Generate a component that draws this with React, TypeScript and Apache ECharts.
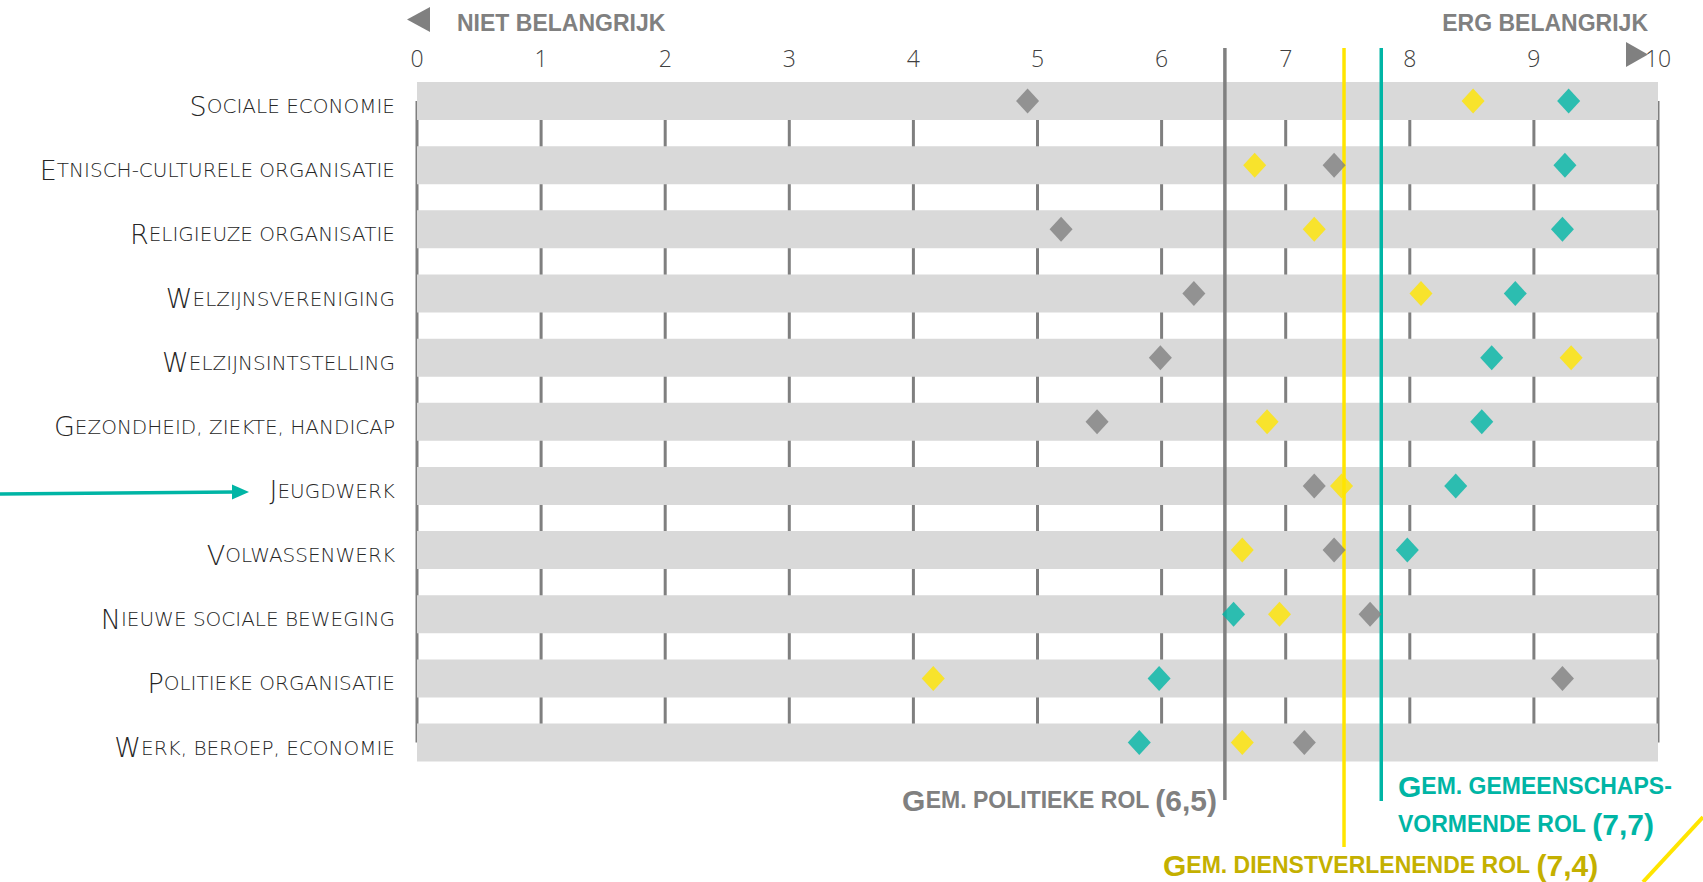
import React, { useEffect, useRef } from 'react';
import * as echarts from 'echarts';

const categories = [
  'Sociale economie',
  'Etnisch-culturele organisatie',
  'Religieuze organisatie',
  'Welzijnsvereniging',
  'Welzijnsintstelling',
  'Gezondheid, ziekte, handicap',
  'Jeugdwerk',
  'Volwassenwerk',
  'Nieuwe sociale beweging',
  'Politieke organisatie',
  'Werk, beroep, economie',
];

const tickValues = [0, 1, 2, 3, 4, 5, 6, 7, 8, 9, 10];

// gray diamonds: politieke rol
const politiekeRol = [4.92, 7.39, 5.19, 6.26, 5.99, 5.48, 7.23, 7.39, 7.68, 9.23, 7.15];
// yellow diamonds: dienstverlenende rol
const dienstverlenendeRol = [8.51, 6.75, 7.23, 8.09, 9.3, 6.85, 7.45, 6.65, 6.95, 4.16, 6.65];
// teal diamonds: gemeenschapsvormende rol
const gemeenschapsvormendeRol = [9.28, 9.25, 9.23, 8.85, 8.66, 8.58, 8.37, 7.98, 6.58, 5.98, 5.82];

// average lines (politieke, dienstverlenende, gemeenschapsvormende)
const meanValues = [6.51, 7.47, 7.77];

const GRAY = '#808080';
const YELLOW = '#ffe500';
const TEAL = '#00b5a5';
const YELLOW_TEXT = '#c4b000';

const meanColors = [GRAY, YELLOW, TEAL];
const meanBottoms = [800, 847, 801];

const LABEL_FONT = 'DejaVu Sans';
const BOLD_FONT = 'Liberation Sans, Arial, sans-serif';

function smallCaps(v: string) {
  return `{b|${v.charAt(0).toUpperCase()}}{s|${v.slice(1).toUpperCase()}}`;
}

function richBold(color: string) {
  return {
    b: { fontSize: 30, fontWeight: 'bold', fontFamily: BOLD_FONT, fill: color },
    s: { fontSize: 23, fontWeight: 'bold', fontFamily: BOLD_FONT, fill: color },
  };
}

export default function App() {
  const ref = useRef<HTMLDivElement>(null);

  useEffect(() => {
    if (!ref.current) return;
    const chart = echarts.init(ref.current, undefined, { renderer: 'svg' });

    const option: any = {
      animation: false,
      backgroundColor: '#ffffff',
      grid: { left: 417, right: 45, top: 69, height: 705.6 },
      xAxis: {
        type: 'value',
        position: 'top',
        min: 0,
        max: 10,
        interval: 1,
        axisLine: { show: false },
        axisTick: { show: false },
        splitLine: { show: false },
        axisLabel: {
          margin: 0,
          fontSize: 23,
          color: '#404040',
          fontFamily: 'Open Sans',
          fontWeight: 300,
        },
      },
      yAxis: {
        type: 'category',
        inverse: true,
        data: categories,
        axisLine: { show: false },
        axisTick: { show: false },
        splitLine: { show: false },
        axisLabel: {
          margin: 22,
          padding: [10, 0, 0, 0],
          formatter: (v: string) => smallCaps(v),
          rich: {
            b: { fontSize: 27, fontFamily: LABEL_FONT, fontWeight: 200, color: '#262626' },
            s: { fontSize: 20, fontFamily: LABEL_FONT, fontWeight: 200, color: '#262626' },
          },
        },
      },
      series: [
        {
          name: 'ticks',
          type: 'custom',
          silent: true,
          z: 1,
          data: tickValues.map((v) => [v, 0]),
          encode: { x: 0, y: 1 },
          renderItem: (params: any, api: any) => {
            const x = api.value(0);
            const p1 = api.coord([x, 0]);
            const p2 = api.coord([x, categories.length - 1]);
            return {
              type: 'line',
              shape: { x1: p1[0], y1: p1[1], x2: p2[0], y2: p2[1] },
              style: { stroke: '#7f7f7f', lineWidth: 3 },
            };
          },
        },
        {
          name: 'band',
          type: 'bar',
          silent: true,
          z: 2,
          barWidth: 38,
          data: categories.map(() => 10),
          itemStyle: { color: '#d9d9d9' },
        },
        {
          name: 'gemiddelden',
          type: 'custom',
          silent: true,
          z: 3,
          clip: false,
          data: meanValues.map((v, i) => [v, 0, i]),
          encode: { x: 0, y: 1 },
          renderItem: (params: any, api: any) => {
            const x = api.coord([api.value(0), 0])[0];
            const i = api.value(2);
            return {
              type: 'line',
              shape: { x1: x, y1: 48, x2: x, y2: meanBottoms[i] },
              style: { stroke: meanColors[i], lineWidth: 3.5 },
            };
          },
        },
        {
          name: 'Politieke rol',
          type: 'scatter',
          z: 4,
          symbol: 'diamond',
          symbolSize: [23, 25],
          itemStyle: { color: GRAY },
          data: politiekeRol.map((v, i) => [v, i]),
        },
        {
          name: 'Dienstverlenende rol',
          type: 'scatter',
          z: 4,
          symbol: 'diamond',
          symbolSize: [23, 25],
          itemStyle: { color: YELLOW },
          data: dienstverlenendeRol.map((v, i) => [v, i]),
        },
        {
          name: 'Gemeenschapsvormende rol',
          type: 'scatter',
          z: 4,
          symbol: 'diamond',
          symbolSize: [23, 25],
          itemStyle: { color: TEAL },
          data: gemeenschapsvormendeRol.map((v, i) => [v, i]),
        },
      ],
      graphic: [
        {
          type: 'polygon',
          shape: { points: [[407, 19.5], [430, 7], [430, 32]] },
          style: { fill: GRAY },
        },
        {
          type: 'text',
          x: 457,
          y: 23,
          style: {
            text: 'NIET BELANGRIJK',
            fontSize: 23,
            fontWeight: 'bold',
            fontFamily: BOLD_FONT,
            fill: GRAY,
            align: 'left',
            verticalAlign: 'middle',
          },
        },
        {
          type: 'text',
          x: 1648,
          y: 23,
          style: {
            text: 'ERG BELANGRIJK',
            fontSize: 23,
            fontWeight: 'bold',
            fontFamily: BOLD_FONT,
            fill: GRAY,
            align: 'right',
            verticalAlign: 'middle',
          },
        },
        {
          type: 'polygon',
          shape: { points: [[1626, 42], [1648, 54.5], [1626, 67]] },
          style: { fill: GRAY },
        },
        {
          type: 'line',
          shape: { x1: 0, y1: 494, x2: 234, y2: 492 },
          style: { stroke: TEAL, lineWidth: 3.5 },
        },
        {
          type: 'polygon',
          shape: { points: [[232, 484.5], [249, 492], [232, 499.5]] },
          style: { fill: TEAL },
        },
        {
          type: 'text',
          x: 1217,
          y: 815,
          style: {
            text: '{b|G}{s|EM. POLITIEKE ROL }{b|(6,5)}',
            rich: richBold(GRAY),
            align: 'right',
            verticalAlign: 'bottom',
          },
        },
        {
          type: 'text',
          x: 1398,
          y: 801,
          style: {
            text: '{b|G}{s|EM. GEMEENSCHAPS-}',
            rich: richBold(TEAL),
            align: 'left',
            verticalAlign: 'bottom',
          },
        },
        {
          type: 'text',
          x: 1398,
          y: 839,
          style: {
            text: '{s|VORMENDE ROL }{b|(7,7)}',
            rich: richBold(TEAL),
            align: 'left',
            verticalAlign: 'bottom',
          },
        },
        {
          type: 'text',
          x: 1163,
          y: 880,
          style: {
            text: '{b|G}{s|EM. DIENSTVERLENENDE ROL }{b|(7,4)}',
            rich: richBold(YELLOW_TEXT),
            align: 'left',
            verticalAlign: 'bottom',
          },
        },
        {
          type: 'line',
          shape: { x1: 1703, y1: 817, x2: 1643, y2: 882 },
          style: { stroke: YELLOW, lineWidth: 4 },
        },
      ],
    };

    chart.setOption(option);
    return () => chart.dispose();
  }, []);

  return (
    <div
      ref={ref}
      style={{ position: 'fixed', left: 0, top: 0, width: 1703, height: 882, background: '#fff' }}
    />
  );
}
